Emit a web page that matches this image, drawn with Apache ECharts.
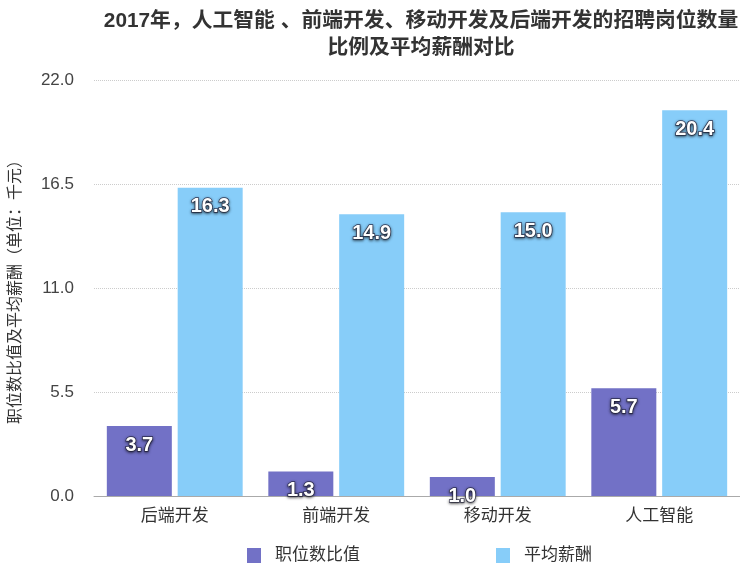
<!DOCTYPE html>
<html>
<head>
<meta charset="utf-8">
<script src="https://cdn.jsdelivr.net/npm/echarts@6/dist/echarts.min.js"></script>
<style>
  html, body { margin: 0; padding: 0; background: #fff; }
  #main { width: 740px; height: 564px; }
</style>
</head>
<body>
<div id="main"></div>
<script>
// 数据
var categories = ['后端开发', '前端开发', '移动开发', '人工智能'];
var seriesNames = ['职位数比值', '平均薪酬'];
var jobRatio = [3.7, 1.3, 1.0, 5.7];
var avgSalary = [16.3, 14.9, 15.0, 20.4];
var yMax = 22, yStep = 5.5;

var font = 'Liberation Sans, Noto Sans CJK SC, sans-serif';

var myChart = echarts.init(document.getElementById('main'));

// 柱子上的数值标签：白字+深色描边
var barLabel = {
    show: true,
    position: 'insideTop',
    distance: 9,
    color: '#fff',
    fontSize: 20,
    fontWeight: 'bold',
    fontFamily: font,
    formatter: function (p) { return p.value.toFixed(1); },
    textBorderColor: 'rgba(40,40,70,0.85)',
    textBorderWidth: 1.5,
    textShadowColor: 'rgba(0,0,0,0.6)',
    textShadowBlur: 3,
    textShadowOffsetY: 1
};

var option = {
    backgroundColor: '#fff',
    title: {
        text: '2017年，人工智能 、前端开发、移动开发及后端开发的招聘岗位数量\n比例及平均薪酬对比',
        left: 416,
        textAlign: 'center',
        top: 3,
        textStyle: {
            fontSize: 20.8,
            fontWeight: 'bold',
            color: '#333',
            lineHeight: 27,
            fontFamily: font
        }
    },
    legend: {
        data: seriesNames,
        left: 242,
        top: 542,
        itemWidth: 14,
        itemHeight: 15,
        itemGap: 136,
        icon: 'rect',
        textStyle: { fontSize: 17, color: '#333', fontFamily: font, padding: [0, 0, 0, 9] }
    },
    grid: { left: 92, right: 0, top: 80, bottom: 68 },
    xAxis: {
        type: 'category',
        data: categories,
        axisTick: { show: false },
        axisLine: { lineStyle: { color: '#aaa' } },
        axisLabel: { fontSize: 17, color: '#333', margin: 12, fontFamily: font }
    },
    yAxis: {
        type: 'value',
        min: 0,
        max: yMax,
        interval: yStep,
        name: '职位数比值及平均薪酬（单位：千元）',
        nameLocation: 'middle',
        nameGap: 70,
        nameTextStyle: { fontSize: 16, color: '#333', fontFamily: font },
        axisLine: { show: false },
        axisTick: { show: false },
        axisLabel: {
            fontSize: 17, color: '#444', margin: 20, fontFamily: font,
            formatter: function (v) { return v.toFixed(1); }
        },
        splitLine: { lineStyle: { color: '#ccc', type: 'dotted' } }
    },
    series: [
        {
            name: seriesNames[0],
            type: 'bar',
            data: jobRatio,
            barWidth: 65,
            barGap: '9%',
            itemStyle: { color: '#7271c6' },
            label: barLabel
        },
        {
            name: seriesNames[1],
            type: 'bar',
            data: avgSalary,
            barWidth: 65,
            itemStyle: { color: '#87cdf9' },
            label: barLabel
        }
    ]
};

myChart.setOption(option);
</script>
</body>
</html>
